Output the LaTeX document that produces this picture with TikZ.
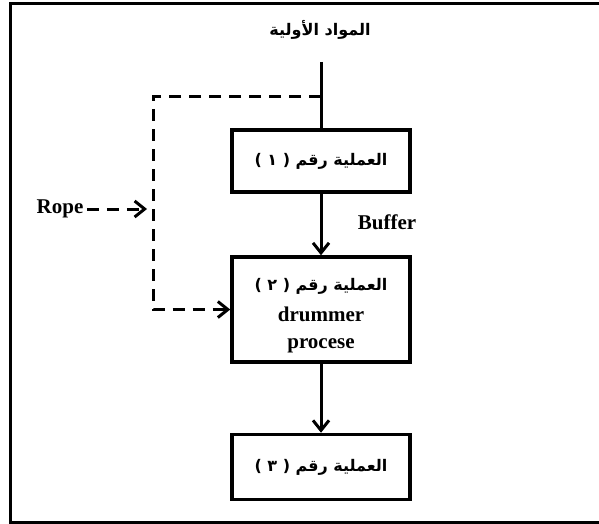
\documentclass[tikz,border=0pt]{standalone}
\usepackage{fontspec}
\setmainfont{Liberation Serif}
\newfontfamily\arabicfont[Script=Arabic]{DejaVu Sans}
\TeXXeTstate=1
\usetikzlibrary{arrows.meta}

\begin{document}
\begin{tikzpicture}[x=1pt,y=-1pt,
  procbox/.style={draw,line width=3.5pt,minimum width=178pt,minimum height=62pt,inner sep=0pt,align=center},
  tip/.style={-{Straight Barb[length=10pt,width=16pt,line width=3pt]}},
  flow/.style={line width=3pt,tip},
  ropeline/.style={line width=3pt,dash pattern=on 12pt off 8pt,tip},
  lbl/.style={font=\fontsize{21}{28}\selectfont\bfseries},
  ar/.style={font=\fontsize{16}{20}\selectfont\arabicfont\bfseries}]
 \useasboundingbox (0,0) rectangle (599,524);
 % frame
 \draw[line width=3pt] (599,4) -| (10.5,522) -- (599,522);
 % boxes
 \node[ar] (raw) at (320,30) {\beginR المواد الأولية\endR};
 \node[procbox,ar] (proc1) at (321,161) {\beginR العملية رقم ( ١ )\endR};
 \node[procbox,minimum height=105pt] (proc2) at (321,309.5) {};
 \node[lbl,align=center] (proc2text) at (321,316)
   {{\fontsize{16}{20}\selectfont\arabicfont\bfseries\beginR العملية رقم ( ٢ )\endR}\\[3pt]drummer\\[-1pt]procese};
 \node[procbox,minimum height=65pt,ar] (proc3) at (321,467) {\beginR العملية رقم ( ٣ )\endR};
 \node[lbl] (buffer) at (387,222) {Buffer};
 \node[lbl] (rope) at (60,209) {Rope};
 % connectors
 \coordinate (feed) at (321,62);
 \coordinate (split) at (321,97);
 \coordinate (ropecorner) at (153,97);
 \coordinate (ropetip) at (147,209);
 \draw[line width=3pt] (feed) -- (proc1.north);
 \draw[flow] (proc1) -- (proc2);
 \draw[flow] (proc2) -- (proc3);
 \draw[ropeline] (split) -- (ropecorner) |- (proc2.west);
 \draw[ropeline] (rope.east) -- (ropetip);
\end{tikzpicture}
\end{document}
